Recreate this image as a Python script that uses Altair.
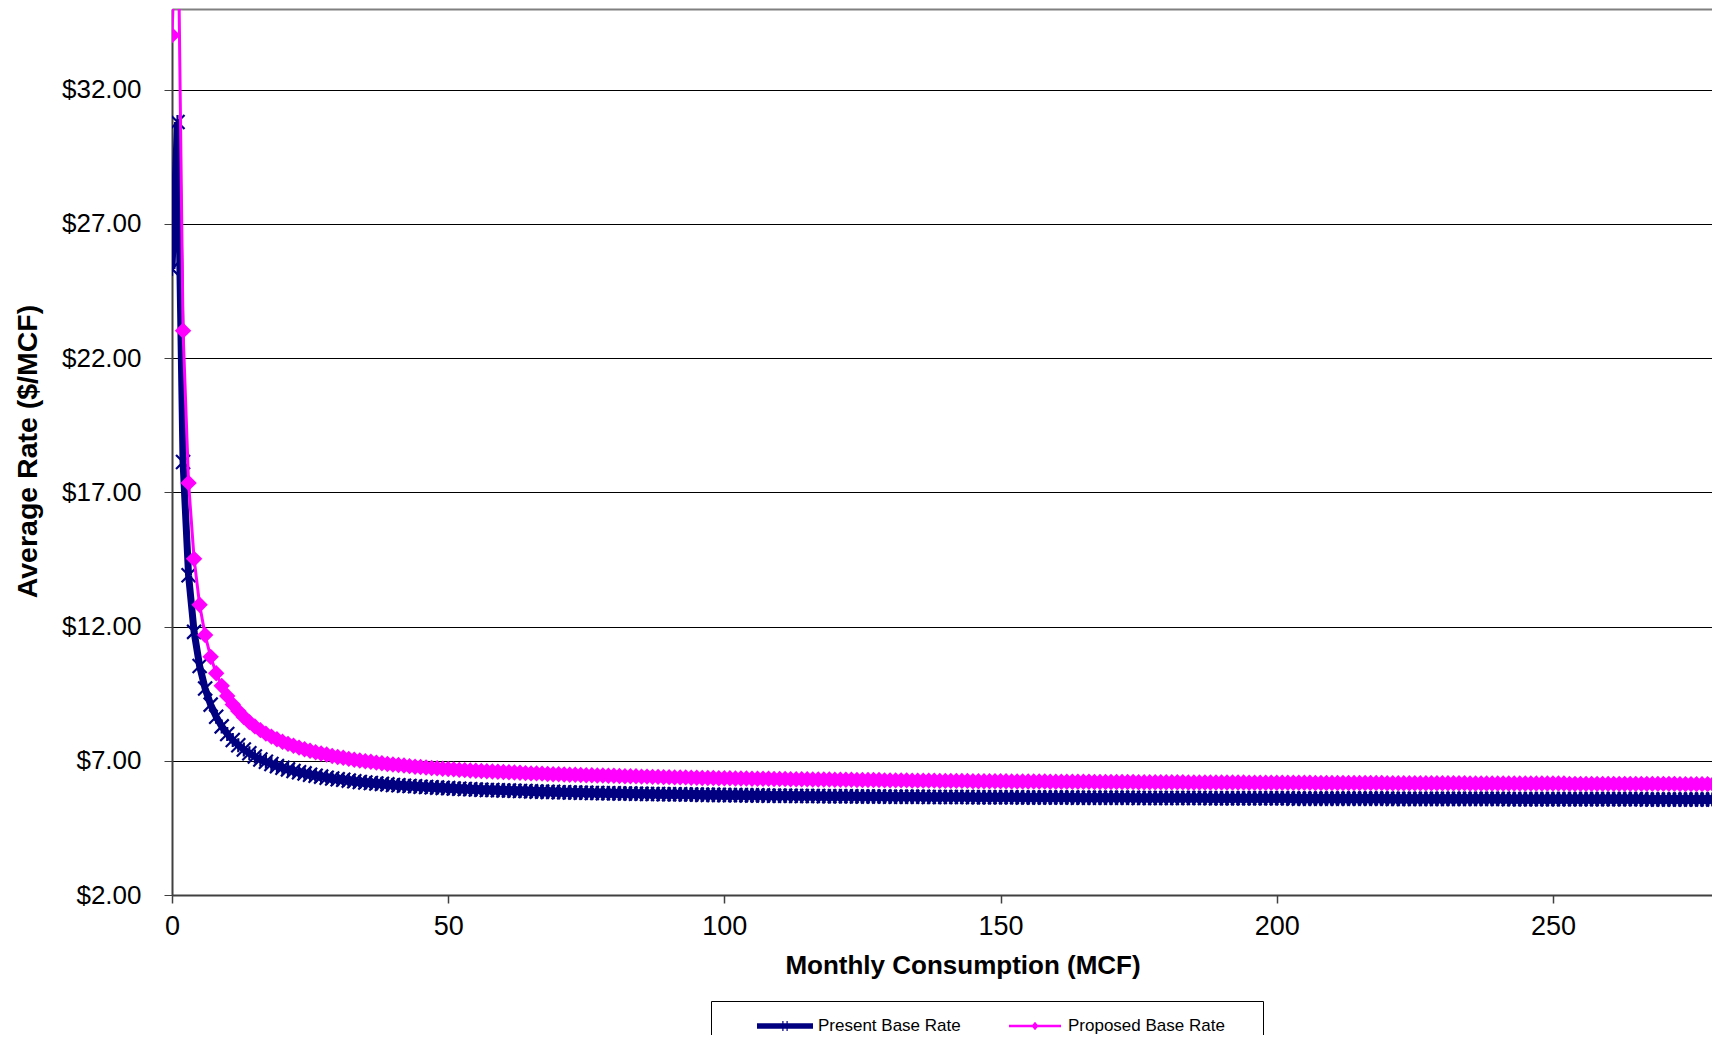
import altair as alt
import pandas as pd

# Monthly consumption steps (MCF)
MCF = list(range(282))

SERIES = ["Present Base Rate", "Proposed Base Rate"]
COLORS = ["#000080", "#FF00FF"]
X_TICKS = [0, 50, 100, 150, 200, 250]
Y_TICKS = [2, 7, 12, 17, 22, 27, 32]

PRESENT = [
    25.32, 30.79, 18.13, 13.91, 11.80, 10.53, 9.69, 9.09, 8.64, 8.28,
    8.00, 7.77, 7.58, 7.42, 7.28, 7.16, 7.05, 6.96, 6.88, 6.80,
    6.74, 6.68, 6.62, 6.57, 6.53, 6.48, 6.44, 6.41, 6.37, 6.34,
    6.31, 6.29, 6.26, 6.24, 6.21, 6.19, 6.17, 6.15, 6.14, 6.12,
    6.10, 6.09, 6.07, 6.06, 6.05, 6.03, 6.02, 6.01, 6.00, 5.99,
    5.98, 5.97, 5.96, 5.95, 5.94, 5.93, 5.92, 5.91, 5.91, 5.90,
    5.89, 5.89, 5.88, 5.87, 5.87, 5.86, 5.85, 5.85, 5.84, 5.84,
    5.83, 5.83, 5.82, 5.82, 5.81, 5.81, 5.80, 5.80, 5.79, 5.79,
    5.79, 5.78, 5.78, 5.78, 5.77, 5.77, 5.76, 5.76, 5.76, 5.75,
    5.75, 5.75, 5.75, 5.74, 5.74, 5.74, 5.73, 5.73, 5.73, 5.73,
    5.72, 5.72, 5.72, 5.72, 5.71, 5.71, 5.71, 5.71, 5.70, 5.70,
    5.70, 5.70, 5.70, 5.69, 5.69, 5.69, 5.69, 5.69, 5.68, 5.68,
    5.68, 5.68, 5.68, 5.68, 5.67, 5.67, 5.67, 5.67, 5.67, 5.67,
    5.66, 5.66, 5.66, 5.66, 5.66, 5.66, 5.66, 5.65, 5.65, 5.65,
    5.65, 5.65, 5.65, 5.65, 5.65, 5.64, 5.64, 5.64, 5.64, 5.64,
    5.64, 5.64, 5.64, 5.64, 5.63, 5.63, 5.63, 5.63, 5.63, 5.63,
    5.63, 5.63, 5.63, 5.63, 5.62, 5.62, 5.62, 5.62, 5.62, 5.62,
    5.62, 5.62, 5.62, 5.62, 5.62, 5.61, 5.61, 5.61, 5.61, 5.61,
    5.61, 5.61, 5.61, 5.61, 5.61, 5.61, 5.61, 5.61, 5.60, 5.60,
    5.60, 5.60, 5.60, 5.60, 5.60, 5.60, 5.60, 5.60, 5.60, 5.60,
    5.60, 5.60, 5.60, 5.59, 5.59, 5.59, 5.59, 5.59, 5.59, 5.59,
    5.59, 5.59, 5.59, 5.59, 5.59, 5.59, 5.59, 5.59, 5.59, 5.59,
    5.59, 5.58, 5.58, 5.58, 5.58, 5.58, 5.58, 5.58, 5.58, 5.58,
    5.58, 5.58, 5.58, 5.58, 5.58, 5.58, 5.58, 5.58, 5.58, 5.58,
    5.58, 5.58, 5.57, 5.57, 5.57, 5.57, 5.57, 5.57, 5.57, 5.57,
    5.57, 5.57, 5.57, 5.57, 5.57, 5.57, 5.57, 5.57, 5.57, 5.57,
    5.57, 5.57, 5.57, 5.57, 5.57, 5.57, 5.57, 5.56, 5.56, 5.56,
    5.56, 5.56, 5.56, 5.56, 5.56, 5.56, 5.56, 5.56, 5.56, 5.56,
    5.56, 5.56,
]

PROPOSED = [
    34.02, 40.03, 23.02, 17.35, 14.52, 12.81, 11.68, 10.87, 10.26, 9.79,
    9.41, 9.10, 8.85, 8.63, 8.44, 8.28, 8.14, 8.01, 7.90, 7.80,
    7.71, 7.63, 7.56, 7.49, 7.43, 7.37, 7.32, 7.27, 7.23, 7.18,
    7.14, 7.11, 7.07, 7.04, 7.01, 6.98, 6.96, 6.93, 6.91, 6.88,
    6.86, 6.84, 6.82, 6.80, 6.78, 6.77, 6.75, 6.73, 6.72, 6.70,
    6.69, 6.68, 6.66, 6.65, 6.64, 6.63, 6.62, 6.61, 6.60, 6.59,
    6.58, 6.57, 6.56, 6.55, 6.54, 6.53, 6.53, 6.52, 6.51, 6.50,
    6.50, 6.49, 6.48, 6.48, 6.47, 6.46, 6.46, 6.45, 6.45, 6.44,
    6.44, 6.43, 6.42, 6.42, 6.42, 6.41, 6.41, 6.40, 6.40, 6.39,
    6.39, 6.38, 6.38, 6.38, 6.37, 6.37, 6.36, 6.36, 6.36, 6.35,
    6.35, 6.35, 6.34, 6.34, 6.34, 6.33, 6.33, 6.33, 6.33, 6.32,
    6.32, 6.32, 6.31, 6.31, 6.31, 6.31, 6.30, 6.30, 6.30, 6.30,
    6.29, 6.29, 6.29, 6.29, 6.28, 6.28, 6.28, 6.28, 6.28, 6.27,
    6.27, 6.27, 6.27, 6.27, 6.26, 6.26, 6.26, 6.26, 6.26, 6.25,
    6.25, 6.25, 6.25, 6.25, 6.25, 6.24, 6.24, 6.24, 6.24, 6.24,
    6.24, 6.24, 6.23, 6.23, 6.23, 6.23, 6.23, 6.23, 6.23, 6.22,
    6.22, 6.22, 6.22, 6.22, 6.22, 6.22, 6.22, 6.21, 6.21, 6.21,
    6.21, 6.21, 6.21, 6.21, 6.21, 6.20, 6.20, 6.20, 6.20, 6.20,
    6.20, 6.20, 6.20, 6.20, 6.19, 6.19, 6.19, 6.19, 6.19, 6.19,
    6.19, 6.19, 6.19, 6.19, 6.19, 6.18, 6.18, 6.18, 6.18, 6.18,
    6.18, 6.18, 6.18, 6.18, 6.18, 6.18, 6.18, 6.17, 6.17, 6.17,
    6.17, 6.17, 6.17, 6.17, 6.17, 6.17, 6.17, 6.17, 6.17, 6.17,
    6.16, 6.16, 6.16, 6.16, 6.16, 6.16, 6.16, 6.16, 6.16, 6.16,
    6.16, 6.16, 6.16, 6.16, 6.16, 6.15, 6.15, 6.15, 6.15, 6.15,
    6.15, 6.15, 6.15, 6.15, 6.15, 6.15, 6.15, 6.15, 6.15, 6.15,
    6.15, 6.15, 6.15, 6.14, 6.14, 6.14, 6.14, 6.14, 6.14, 6.14,
    6.14, 6.14, 6.14, 6.14, 6.14, 6.14, 6.14, 6.14, 6.14, 6.14,
    6.14, 6.14, 6.14, 6.13, 6.13, 6.13, 6.13, 6.13, 6.13, 6.13,
    6.13, 6.13,
]

# marker / legend symbol shapes (the empty trailing sub-paths of the legend
# symbols only enlarge the legend frame, like the original's big box)
X_MARK = "M-1,-1L1,1M-1,1L1,-1M0,-1L0,1"
LEGEND_SHAPES = [
    "M-1.12,-0.11L1.12,-0.11L1.12,0.11L-1.12,0.11Z"
    "M-0.108,-0.2L-0.06,-0.2L-0.06,0.2L-0.108,0.2Z"
    "M0.06,-0.2L0.108,-0.2L0.108,0.2L0.06,0.2Z"
    "M0,1.6L0,1.6Z",
    "M-1.04,-0.05L1.04,-0.05L1.04,0.05L-1.04,0.05Z"
    "M0,-0.17L0.14,0L0,0.17L-0.14,0Z"
    "M9.1,1.6L9.1,1.6Z",
]

n = len(MCF)
df = pd.DataFrame({
    "mcf": MCF + MCF,
    "rate": PRESENT + PROPOSED,
    "series": [SERIES[0]] * n + [SERIES[1]] * n,
})

FONT = "Liberation Sans"
X_SCALE = alt.Scale(domain=[0, 278.8], nice=False, zero=False)
Y_SCALE = alt.Scale(domain=[2, 35], nice=False, zero=False)

x_axis = alt.Axis(
    values=X_TICKS, labelFontSize=27, labelColor="black", labelFont=FONT,
    labelFlush=False, labelOverlap=False, labelPadding=10,
    tickSize=8, tickColor="#404040", tickWidth=1.5,
    domainColor="#404040", domainWidth=2, grid=False,
    title="Monthly Consumption (MCF)", titleFontSize=26, titleFont=FONT,
    titleFontWeight="bold", titleColor="black",
    titleX=790.5, titleY=78.5, titleAlign="center", titleBaseline="alphabetic",
)
top_axis = alt.Axis(
    orient="top", labels=False, ticks=False, grid=False, title=None,
    domainColor="#808080", domainWidth=2,
)
y_axis = alt.Axis(
    values=Y_TICKS, format="$.2f", labelFontSize=26, labelColor="black",
    labelFont=FONT, labelPadding=23, labelFlush=False, labelOverlap=False,
    tickSize=8, tickColor="#404040", tickWidth=1,
    domainColor="#404040", domainWidth=2,
    grid=True, gridColor="black", gridWidth=1,
    title="Average Rate ($/MCF)", titleFontSize=28.5, titleFont=FONT,
    titleFontWeight="bold", titleColor="black", titleAngle=270,
    titleX=-136, titleY=442, titleAlign="center", titleBaseline="alphabetic",
)

y_enc = alt.Y("rate:Q", scale=Y_SCALE, axis=y_axis)

present = alt.Chart(df).transform_filter(alt.datum.series == SERIES[0])
proposed = alt.Chart(df).transform_filter(alt.datum.series == SERIES[1])

line_present = present.mark_line(color=COLORS[0], strokeWidth=7, clip=True).encode(
    x=alt.X("mcf:Q", scale=X_SCALE, axis=x_axis), y=y_enc
)
pts_present = present.mark_point(
    shape=X_MARK, filled=False, size=196, strokeWidth=2.2,
    color=COLORS[0], opacity=1, clip=True,
).encode(x=alt.X("mcf:Q", scale=X_SCALE, axis=None), y=y_enc)
line_proposed = proposed.mark_line(color=COLORS[1], strokeWidth=3, clip=True).encode(
    x=alt.X("mcf:Q", scale=X_SCALE, axis=None), y=y_enc
)
pts_proposed = proposed.mark_point(
    shape="diamond", filled=True, size=270, color=COLORS[1], opacity=1, clip=True,
).encode(x=alt.X("mcf:Q", scale=X_SCALE, axis=None), y=y_enc)

legend = alt.Legend(
    orient="none", legendX=539, legendY=992, direction="horizontal", columns=2,
    title=None,
    symbolSize=2500, symbolStrokeWidth=0, symbolOpacity=1,
    symbolOffset=49, labelOffset=8, columnPadding=0, padding=0,
    strokeColor="black", labelFont=FONT, labelFontSize=17, labelColor="black",
    labelLimit=0,
)
legend_layer = alt.Chart(df).transform_filter("false").mark_point(filled=True).encode(
    x=alt.X("mcf:Q", scale=X_SCALE, axis=top_axis),
    y=y_enc,
    color=alt.Color("series:N", scale=alt.Scale(domain=SERIES, range=COLORS), legend=legend),
    shape=alt.Shape("series:N", scale=alt.Scale(domain=SERIES, range=LEGEND_SHAPES), legend=legend),
)

chart = (
    alt.layer(line_present, pts_present, line_proposed, pts_proposed, legend_layer)
    .resolve_axis(x="independent")
    .properties(
        width=1540, height=886,
        autosize=alt.AutoSizeParams(type="none"),
        padding={"left": 164, "top": 1, "right": 0, "bottom": 140},
        background="white",
    )
    .configure(font=FONT)
    .configure_view(stroke=None)
)

chart.save("out.html", embed_options={"renderer": "svg", "actions": False})
